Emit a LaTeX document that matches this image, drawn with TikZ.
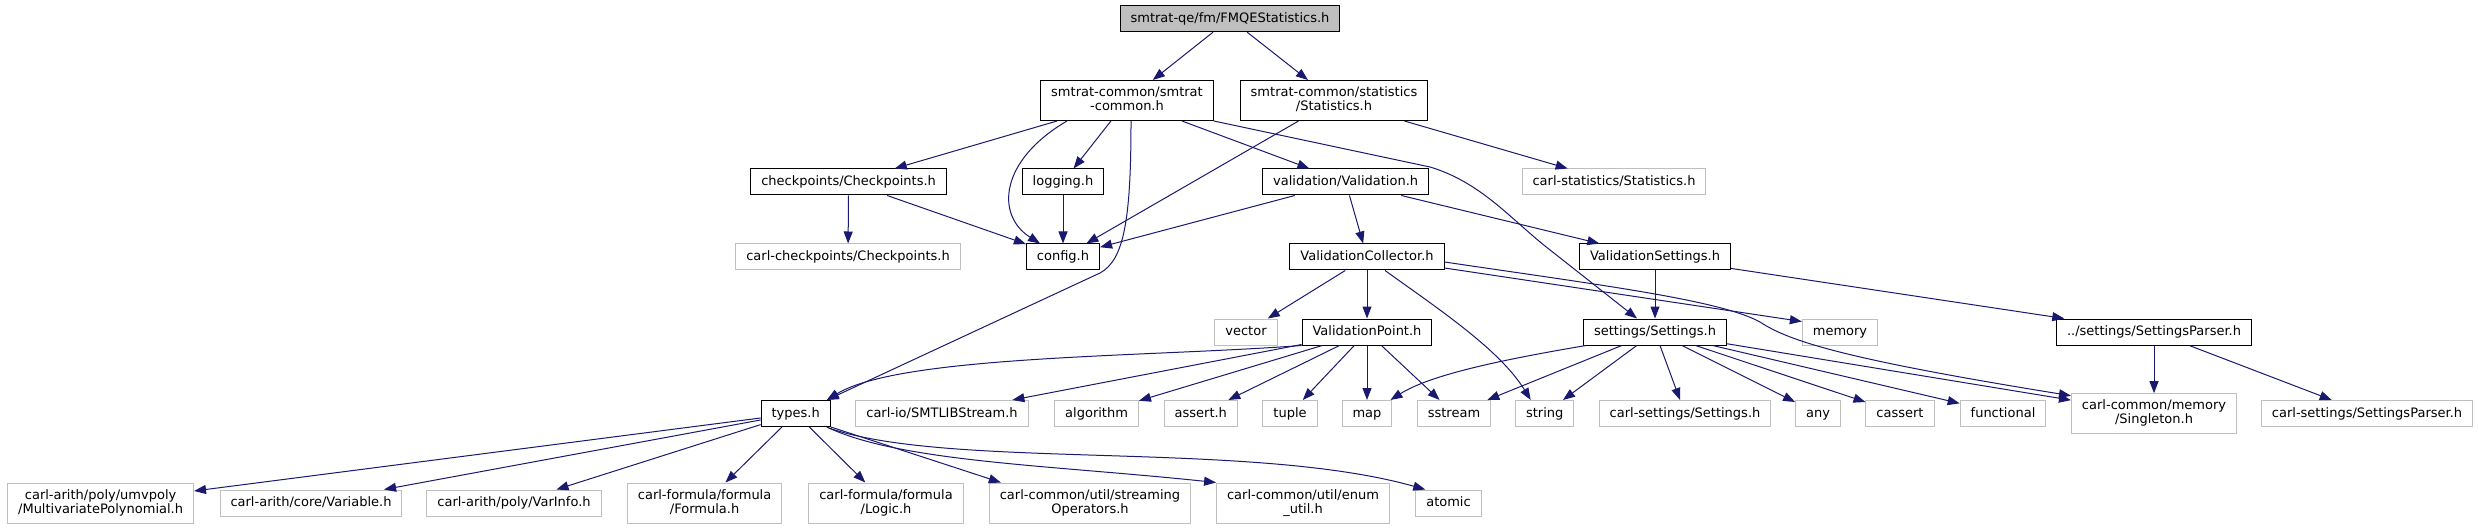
\documentclass[tikz,border=0pt]{standalone}
\usepackage{fontspec}
\setmainfont{DejaVu Sans}
\usetikzlibrary{arrows.meta, calc}

\definecolor{edgeblue}{HTML}{191970}
\definecolor{grey75}{HTML}{BFBFBF}

\begin{document}
\begin{tikzpicture}[x=1pt, y=-1pt,
    incbox/.style={draw=black, fill=white, line width=1pt, font=\fontsize{13}{14}\selectfont,
      inner xsep=10.5pt, inner ysep=0pt, text height=10pt, text depth=3pt, minimum height=26pt, align=center},
    extbox/.style={incbox, draw=grey75},
    rootbox/.style={incbox, fill=grey75},
    twoline/.style={text height=23.5pt, text depth=3pt, minimum height=40pt},
    dep/.style={draw=edgeblue, line width=1pt, -{Triangle[length=12pt, width=9pt]}}]
    \useasboundingbox (0,0) rectangle (2478,529);

    % top levels
    \node[rootbox] (root) at (1230,18.7) {smtrat-qe/fm/FMQEStatistics.h};
    \node[incbox, twoline] (common) at (1127,100.5) {smtrat-common/smtrat\\-common.h};
    \node[incbox, twoline] (stats) at (1334,100.5) {smtrat-common/statistics\\/Statistics.h};
    \node[incbox] (chk) at (848.6,182) {checkpoints/Checkpoints.h};
    \node[incbox] (logging) at (1063,182) {logging.h};
    \node[incbox] (valid) at (1345.6,182) {validation/Validation.h};
    \node[extbox] (carlstat) at (1614,182) {carl-statistics/Statistics.h};
    \node[extbox] (carlchk) at (848,257) {carl-checkpoints/Checkpoints.h};
    \node[incbox] (config) at (1063,257) {config.h};
    \node[incbox] (vcoll) at (1367,257) {ValidationCollector.h};
    \node[incbox] (vsett) at (1655,257) {ValidationSettings.h};
    \node[extbox] (vector) at (1246,332) {vector};
    \node[incbox] (vpoint) at (1367,332) {ValidationPoint.h};
    \node[incbox] (settings) at (1655,332) {settings/Settings.h};
    \node[extbox] (memory) at (1840,332) {memory};
    \node[incbox] (parser) at (2154,332) {../settings/SettingsParser.h};

    % row of leaves
    \node[incbox] (types) at (795.7,413.5) {types.h};
    \node[extbox] (smtlib) at (942,413.5) {carl-io/SMTLIBStream.h};
    \node[extbox] (algorithm) at (1096.6,413.5) {algorithm};
    \node[extbox] (assert) at (1200.8,413.5) {assert.h};
    \node[extbox] (tuple) at (1290,413.5) {tuple};
    \node[extbox] (map) at (1367,413.5) {map};
    \node[extbox] (sstream) at (1454,413.5) {sstream};
    \node[extbox] (string) at (1544.7,413.5) {string};
    \node[extbox] (carlsett) at (1685,413.5) {carl-settings/Settings.h};
    \node[extbox] (any) at (1818,413.5) {any};
    \node[extbox] (cassert) at (1900,413.5) {cassert};
    \node[extbox] (functional) at (2003,413.5) {functional};
    \node[extbox, twoline] (singleton) at (2154,413.7) {carl-common/memory\\/Singleton.h};
    \node[extbox] (carlparser) at (2367,413.5) {carl-settings/SettingsParser.h};

    % bottom row
    \node[extbox, twoline] (mvpoly) at (100.6,503) {carl-arith/poly/umvpoly\\/MultivariatePolynomial.h};
    \node[extbox] (variable) at (311,503) {carl-arith/core/Variable.h};
    \node[extbox] (varinfo) at (514,503) {carl-arith/poly/VarInfo.h};
    \node[extbox, twoline] (formula) at (704.6,503) {carl-formula/formula\\/Formula.h};
    \node[extbox, twoline] (logic) at (886,503) {carl-formula/formula\\/Logic.h};
    \node[extbox, twoline] (streaming) at (1090,503) {carl-common/util/streaming\\Operators.h};
    \node[extbox, twoline] (enumutil) at (1303,503) {carl-common/util/enum\\\_util.h};
    \node[extbox] (atomic) at (1448.5,503) {atomic};

    % straight includes
    \foreach \a/\b in {root/common, root/stats, common/chk, common/logging, common/valid,
        stats/config, stats/carlstat, chk/carlchk, chk/config, logging/config, valid/config,
        valid/vcoll, valid/vsett, vcoll/vector, vcoll/vpoint, vsett/settings, vsett/parser,
        vpoint/smtlib, vpoint/algorithm, vpoint/assert, vpoint/tuple, vpoint/map, vpoint/sstream,
        settings/sstream, settings/string, settings/carlsett, settings/any, settings/cassert,
        settings/functional, settings/singleton, parser/singleton, parser/carlparser,
        types/mvpoly, types/variable, types/varinfo, types/formula, types/logic}
      \draw[dep] (\a) -- (\b);

    % bent includes
    \draw[dep] ($(common.south)+(-60,0)$) .. controls (1000,160) and (995,215) .. ($(config.north)+(-23,0)$);
    \draw[dep] ($(common.south)+(4,0)$) .. controls (1131,220) and (1124,260) .. (1100,273)
      -- ($(types.north east)+(-4,0)$);
    \draw[dep] (common.south east) -- (1430,167) .. controls (1480,182) and (1510,218) .. (1545,246)
      -- ($(settings.north)+(-18,0)$);
    \draw[dep] ($(vcoll.south)+(18,0)$) .. controls (1440,310) and (1500,350) .. ($(string.north)+(-14,0)$);
    \draw[dep] ($(vcoll.east)+(0,11)$) -- ($(memory.north west)+(0,3)$);
    \draw[dep] ($(vcoll.east)+(0,5)$) .. controls (1600,285) and (1720,300) .. (1760,322)
      .. controls (1790,342) and (1850,360) .. ($(singleton.west)+(0,-18)$);
    \draw[dep] (vpoint.south west) .. controls (1150,357) and (900,355) .. ($(types.north east)+(-4,0)$);
    \draw[dep] ($(settings.south west)+(3,0)$) .. controls (1500,360) and (1430,375) .. ($(map.north east)+(-2,0)$);
    \draw[dep] (types.south east) -- ($(streaming.north west)+(12,0)$);
    \draw[dep] ($(types.south east)+(-4,0)$) .. controls (900,462) and (1050,465) .. (enumutil.north west);
    \draw[dep] ($(types.south east)+(-2,1)$) .. controls (950,470) and (1250,440) .. ($(atomic.north west)+(10,0)$);
\end{tikzpicture}
\end{document}
